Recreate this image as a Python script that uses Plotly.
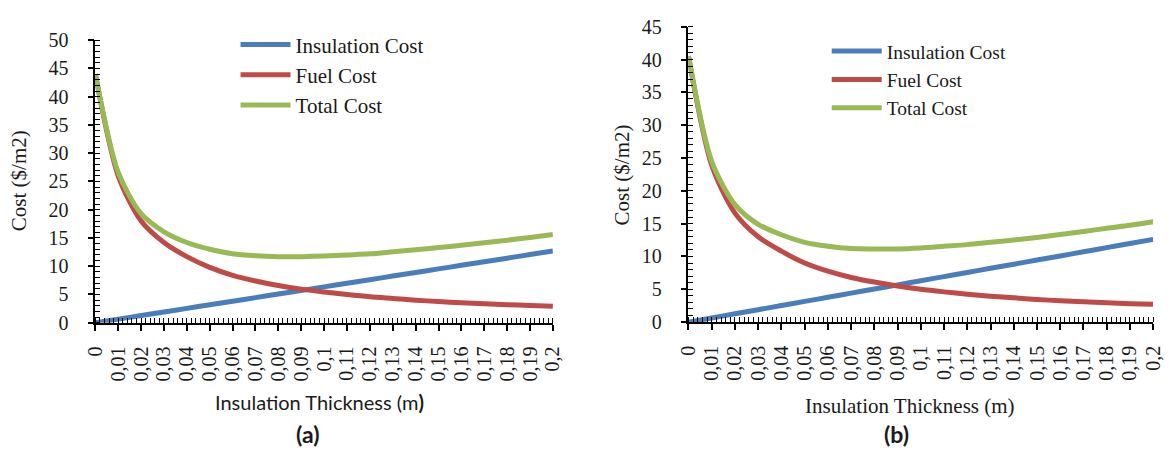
import plotly.graph_objects as go

# Insulation thickness (m) and the category labels shown on the x axis
thickness = [0.00, 0.01, 0.02, 0.03, 0.04, 0.05, 0.06, 0.07, 0.08, 0.09, 0.10,
             0.11, 0.12, 0.13, 0.14, 0.15, 0.16, 0.17, 0.18, 0.19, 0.20]
thickness_labels = ["0", "0,01", "0,02", "0,03", "0,04", "0,05", "0,06", "0,07",
                    "0,08", "0,09", "0,1", "0,11", "0,12", "0,13", "0,14", "0,15",
                    "0,16", "0,17", "0,18", "0,19", "0,2"]

# Case (a) costs, $/m2
insulation_a = [0.0, 0.64, 1.27, 1.91, 2.54, 3.18, 3.81, 4.45, 5.08, 5.72, 6.35,
                6.99, 7.62, 8.26, 8.89, 9.53, 10.16, 10.80, 11.43, 12.07, 12.70]
fuel_a = [44.0, 26.0, 18.0, 14.2, 11.7, 9.8, 8.4, 7.4, 6.6, 5.95, 5.45,
          5.0, 4.6, 4.3, 4.0, 3.75, 3.55, 3.35, 3.2, 3.05, 2.9]
total_a = [44.0, 26.6, 19.3, 16.1, 14.2, 13.0, 12.2, 11.85, 11.7, 11.7, 11.8,
           12.0, 12.2, 12.55, 12.9, 13.3, 13.7, 14.15, 14.6, 15.1, 15.6]

# Case (b) costs, $/m2
insulation_b = [0.0, 0.63, 1.26, 1.89, 2.52, 3.15, 3.78, 4.41, 5.04, 5.67, 6.30,
                6.93, 7.56, 8.19, 8.82, 9.45, 10.08, 10.71, 11.34, 11.97, 12.60]
fuel_b = [40.5, 23.9, 16.6, 13.0, 10.8, 9.0, 7.75, 6.8, 6.1, 5.5, 5.0,
          4.6, 4.25, 3.95, 3.7, 3.45, 3.25, 3.1, 2.95, 2.8, 2.7]
total_b = [40.5, 24.5, 17.9, 14.9, 13.3, 12.15, 11.55, 11.2, 11.15, 11.15, 11.3,
           11.55, 11.8, 12.15, 12.5, 12.9, 13.35, 13.8, 14.3, 14.75, 15.3]

series_names = ["Insulation Cost", "Fuel Cost", "Total Cost"]
colors = ["#4A7EBB", "#BE4B48", "#98B954"]

SERIF = "Times New Roman, Liberation Serif, DejaVu Serif, serif"
SANS = "Lato, Open Sans, sans-serif"
TXT = "#1a1a1a"

fig = go.Figure()

for xa, ya, lg, ys in [("x", "y", "legend", [insulation_a, fuel_a, total_a]),
                       ("x2", "y2", "legend2", [insulation_b, fuel_b, total_b])]:
    for name, col, vals in zip(series_names, colors, ys):
        fig.add_trace(go.Scatter(
            x=thickness, y=vals, name=name, mode="lines",
            line=dict(color=col, width=5, shape="spline", smoothing=0.8),
            xaxis=xa, yaxis=ya, legend=lg, hoverinfo="skip"))

W, H = 1174, 452
dom_xa = [85 / W, 551.7 / W]
dom_ya = [(H - 327.7) / H, (H - 30.7) / H]
dom_xb = [690 / W, 1164 / W]
dom_yb = [(H - 327) / H, (H - 16.5) / H]


def xaxis_main(domain, anchor):
    return dict(domain=domain, anchor=anchor, range=[0, 0.2],
                tickmode="array", tickvals=thickness, ticktext=thickness_labels,
                tickangle=-90, ticklabelstandoff=8,
                tickfont=dict(family=SERIF, size=20, color=TXT),
                ticks="outside", ticklen=6, tickwidth=1.5, tickcolor="black",
                showline=True, linecolor="black", linewidth=1.5,
                showgrid=False, zeroline=False,
                minor=dict(ticks="inside", tickmode="linear", tick0=0, dtick=0.002,
                           ticklen=5, tickwidth=1, tickcolor="black", showgrid=False))


def yaxis_main(domain, anchor, top):
    return dict(domain=domain, anchor=anchor, range=[0, top],
                tickmode="linear", tick0=0, dtick=5, ticklabelstandoff=15,
                tickfont=dict(family=SERIF, size=20, color=TXT),
                ticks="outside", ticklen=6, tickwidth=1.5, tickcolor="black",
                showline=True, linecolor="black", linewidth=1.5,
                showgrid=False, zeroline=False,
                minor=dict(ticks="inside", tickmode="linear", tick0=0, dtick=1,
                           ticklen=5, tickwidth=1, tickcolor="black", showgrid=False))


def x_cross(overlay, anchor):
    # inner half of the major x ticks
    return dict(overlaying=overlay, anchor=anchor, range=[0, 0.2],
                tickmode="array", tickvals=thickness, showticklabels=False,
                ticks="inside", ticklen=5, tickwidth=1.5, tickcolor="black",
                showline=False, showgrid=False, zeroline=False)


def y_cross(overlay, anchor, top):
    # inner half of the major y ticks
    return dict(overlaying=overlay, anchor=anchor, range=[0, top],
                tickmode="linear", tick0=0, dtick=5, showticklabels=False,
                ticks="inside", ticklen=5, tickwidth=1.5, tickcolor="black",
                showline=False, showgrid=False, zeroline=False)


legend_common = dict(bgcolor="rgba(0,0,0,0)", borderwidth=0,
                     xanchor="left", yanchor="top", itemwidth=50,
                     tracegroupgap=0)


def label(text, x, y, size, family, angle=0):
    return dict(text=text, x=x / W, y=1 - y / H, xref="paper", yref="paper",
                xanchor="center", yanchor="middle", textangle=angle,
                showarrow=False, font=dict(family=family, size=size, color=TXT))


fig.update_layout(
    width=W, height=H,
    font=dict(family=SERIF, size=20, color=TXT),
    margin=dict(l=0, r=0, t=0, b=0),
    paper_bgcolor="white", plot_bgcolor="white",
    showlegend=True,
    xaxis=xaxis_main(dom_xa, "y"),
    yaxis=yaxis_main(dom_ya, "x", 50),
    xaxis2=xaxis_main(dom_xb, "y2"),
    yaxis2=yaxis_main(dom_yb, "x2", 45),
    xaxis3=x_cross("x", "y"),
    yaxis3=y_cross("y", "x", 50),
    xaxis4=x_cross("x2", "y2"),
    yaxis4=y_cross("y2", "x2", 45),
    legend=dict(x=228 / W, y=1 - 14 / H,
                font=dict(family=SERIF, size=21, color=TXT), **legend_common),
    legend2=dict(x=831 / W, y=1 - 22 / H,
                 font=dict(family=SERIF, size=19.5, color=TXT), **legend_common),
    annotations=[
        label("Cost ($/m2)", 7, 178, 21, SERIF, -90),
        label("Cost ($/m2)", 622, 172, 21, SERIF, -90),
        label("Insulation Thickness (m<b>)</b>", 314, 411, 20, SANS),
        label("Insulation Thickness (m)", 916, 415, 21, SERIF),
        label("<b>(a)</b>", 301, 445, 23, SANS),
        label("<b>(b)</b>", 902, 445, 23, SANS),
    ],
)

fig.write_html("out.html")
